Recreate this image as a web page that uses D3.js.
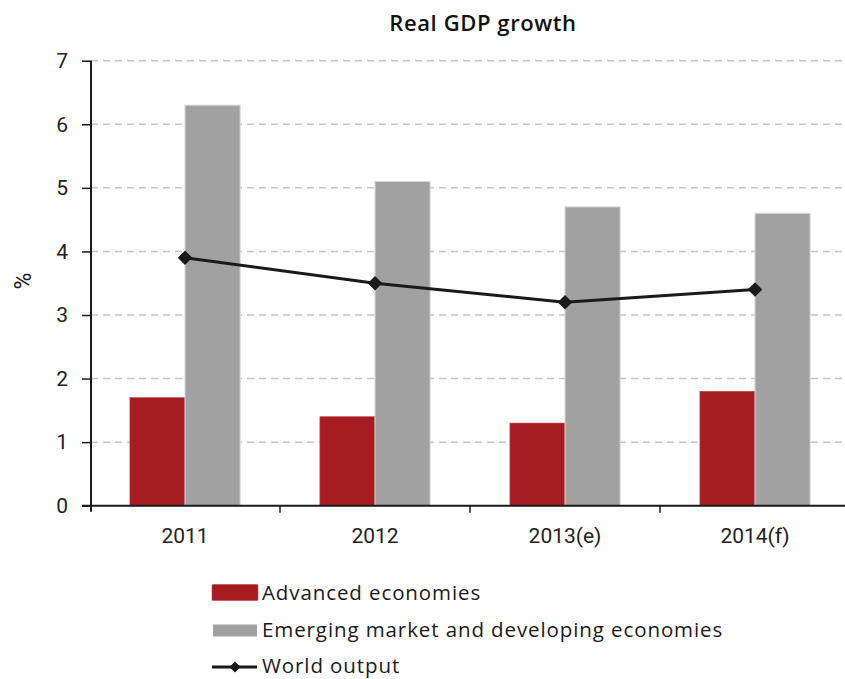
<!DOCTYPE html>
<html>
<head>
<meta charset="utf-8">
<script src="https://cdn.jsdelivr.net/npm/d3@7"></script>
<style>
  html, body { margin: 0; padding: 0; background: #fff; }
  svg { display: block; }
</style>
</head>
<body>
<svg id="chart" width="845" height="679"></svg>
<script>
// Real GDP growth, annual %, by economy group
const years = ["2011", "2012", "2013(e)", "2014(f)"];
const advanced = [1.7, 1.4, 1.3, 1.8];
const emerging = [6.3, 5.1, 4.7, 4.6];
const world = [3.9, 3.5, 3.2, 3.4];
const yTicks = [0, 1, 2, 3, 4, 5, 6, 7];
const legendLabels = ["Advanced economies", "Emerging market and developing economies", "World output"];

const RED = "#a61c22";
const GREY = "#a1a1a1";
const INK = "#1a1a1a";

const svg = d3.select("#chart");
const tickFont = "Roboto, 'Liberation Sans', sans-serif";
const legendFont = "'Open Sans', 'Liberation Sans', sans-serif";

const x = d3.scaleBand().domain(years).range([90, 850]).padding(0);
const y = d3.scaleLinear().domain([0, 7]).range([505.7, 60.7]);
const barW = x.bandwidth() * 0.29;
const cx = d => x(d) + x.bandwidth() / 2;

// title
svg.append("text")
  .attr("x", 483).attr("y", 31)
  .attr("text-anchor", "middle")
  .attr("font-family", legendFont)
  .attr("font-weight", 600)
  .attr("font-size", 22)
  .attr("letter-spacing", 0.6)
  .attr("fill", "#111")
  .text("Real GDP growth");

// dashed horizontal gridlines
svg.append("g")
  .selectAll("line")
  .data(yTicks.filter(t => t > 0))
  .join("line")
  .attr("x1", 91).attr("x2", 845)
  .attr("y1", d => y(d)).attr("y2", d => y(d))
  .attr("stroke", "#c4c4c4")
  .attr("stroke-width", 1.5)
  .attr("stroke-dasharray", "7,5");

// bars: advanced economies (left) and emerging economies (right)
svg.append("g")
  .selectAll("rect")
  .data(years.map((yr, i) => ({ yr, v: advanced[i] })))
  .join("rect")
  .attr("x", d => cx(d.yr) - barW)
  .attr("width", barW)
  .attr("y", d => y(d.v))
  .attr("height", d => y(0) - y(d.v))
  .attr("fill", RED)
  .attr("stroke", "#c0484d")
  .attr("stroke-width", 0.6);

svg.append("g")
  .selectAll("rect")
  .data(years.map((yr, i) => ({ yr, v: emerging[i] })))
  .join("rect")
  .attr("x", d => cx(d.yr))
  .attr("width", barW)
  .attr("y", d => y(d.v))
  .attr("height", d => y(0) - y(d.v))
  .attr("fill", GREY)
  .attr("stroke", "#d6d6d6")
  .attr("stroke-width", 1);

// y axis
const yAxis = d3.axisLeft(y).tickValues(yTicks).tickSize(9).tickPadding(14)
  .tickFormat(d3.format("d"));
const gy = svg.append("g").attr("transform", "translate(91,0)").call(yAxis);
gy.select(".domain").remove();
gy.selectAll(".tick line").attr("stroke", INK).attr("stroke-width", 1.5);
gy.selectAll(".tick text")
  .attr("font-family", tickFont).attr("font-size", 21).attr("fill", "#222");
svg.append("line")
  .attr("x1", 91).attr("x2", 91)
  .attr("y1", y(7)).attr("y2", y(0) + 6)
  .attr("stroke", INK).attr("stroke-width", 2);

// x axis: baseline, ticks between categories, category labels
svg.append("line")
  .attr("x1", 82).attr("x2", 845)
  .attr("y1", y(0)).attr("y2", y(0))
  .attr("stroke", INK).attr("stroke-width", 2);
svg.append("g")
  .selectAll("line")
  .data(years.slice(1))
  .join("line")
  .attr("x1", d => x(d)).attr("x2", d => x(d))
  .attr("y1", y(0)).attr("y2", y(0) + 7)
  .attr("stroke", INK).attr("stroke-width", 1.5);
svg.append("g")
  .selectAll("text")
  .data(years)
  .join("text")
  .attr("x", d => cx(d))
  .attr("y", 543)
  .attr("text-anchor", "middle")
  .attr("font-family", tickFont)
  .attr("font-size", 21)
  .attr("fill", "#222")
  .text(d => d);

// y axis title
svg.append("text")
  .attr("transform", "translate(31,281) rotate(-90)")
  .attr("text-anchor", "middle")
  .attr("font-family", tickFont)
  .attr("font-size", 23)
  .attr("fill", "#222")
  .text("%");

// world output line with diamond markers
const line = d3.line().x((d, i) => cx(years[i])).y(d => y(d));
svg.append("path")
  .datum(world)
  .attr("d", line)
  .attr("fill", "none")
  .attr("stroke", INK)
  .attr("stroke-width", 3);
const diamond = d3.symbol().type(d3.symbolSquare).size(105);
svg.append("g")
  .selectAll("path")
  .data(world)
  .join("path")
  .attr("d", diamond)
  .attr("transform", (d, i) => `translate(${cx(years[i])},${y(d)}) rotate(45)`)
  .attr("fill", INK);

// legend
const lg = svg.append("g");
const rowY = [592.5, 630, 665.5];
lg.append("rect").attr("x", 212).attr("y", 584.5).attr("width", 46).attr("height", 16)
  .attr("fill", RED).attr("stroke", "#c0484d").attr("stroke-width", 0.6).attr("rx", 1);
lg.append("rect").attr("x", 213).attr("y", 624.5).attr("width", 44).attr("height", 12)
  .attr("fill", GREY);
lg.append("line").attr("x1", 212).attr("x2", 257).attr("y1", rowY[2] + 1.5).attr("y2", rowY[2] + 1.5)
  .attr("stroke", INK).attr("stroke-width", 2.8);
lg.append("path").attr("d", d3.symbol().type(d3.symbolSquare).size(60))
  .attr("transform", `translate(235,${rowY[2] + 1.5}) rotate(45)`).attr("fill", INK);
lg.selectAll("text")
  .data(legendLabels)
  .join("text")
  .attr("x", 262)
  .attr("y", (d, i) => rowY[i])
  .attr("dy", "0.36em")
  .attr("font-family", legendFont)
  .attr("font-size", 20.5)
  .attr("letter-spacing", 0.9)
  .attr("fill", "#1a1a1a")
  .text(d => d);
</script>
</body>
</html>
